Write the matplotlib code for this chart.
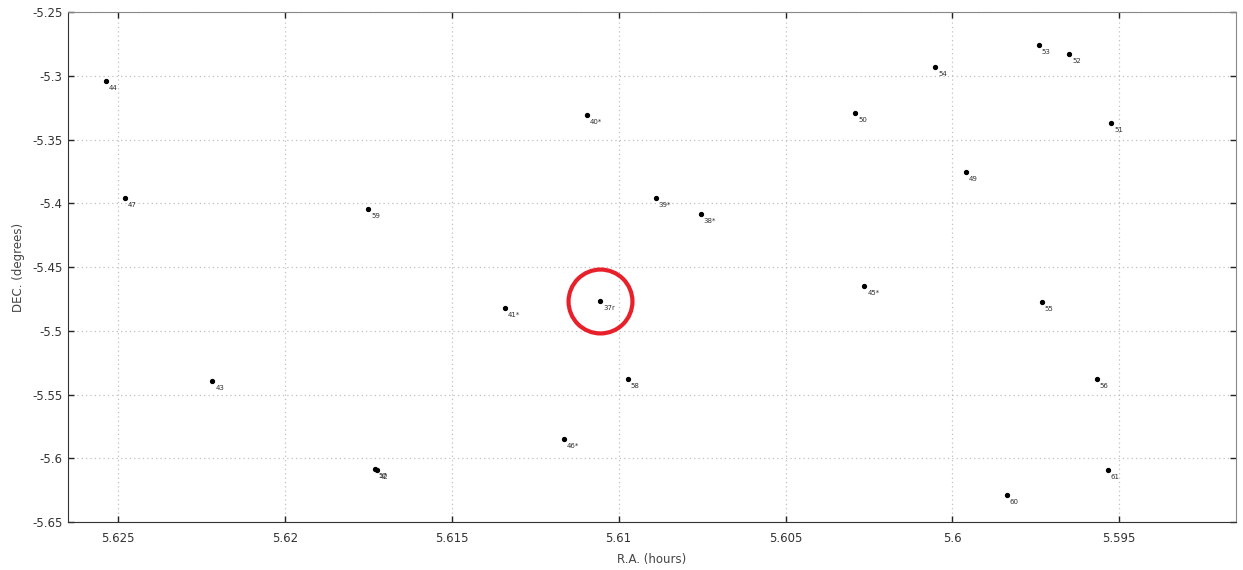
import matplotlib.pyplot as plt
from matplotlib.ticker import MultipleLocator, FuncFormatter

# star positions (R.A. in hours, DEC. in degrees)
labels = ["44", "47", "59", "40*", "39*", "38*", "54", "53", "52", "50", "51", "49",
          "43", "42", "57", "41*", "37r", "58", "46*", "45*", "55", "56", "61", "60"]
ra = [5.62537, 5.62479, 5.61750, 5.61095, 5.60889, 5.60754, 5.60051, 5.59741,
      5.59650, 5.60292, 5.59524, 5.59960, 5.62218, 5.61725, 5.61730, 5.61342,
      5.61056, 5.60973, 5.61164, 5.60264, 5.59732, 5.59568, 5.59535, 5.59837]
dec = [-5.3039, -5.3956, -5.4042, -5.3310, -5.3956, -5.4084, -5.2929, -5.2756,
       -5.2829, -5.3294, -5.3368, -5.3754, -5.5391, -5.6093, -5.6088, -5.4823,
       -5.4766, -5.5375, -5.5850, -5.4646, -5.4774, -5.5375, -5.6093, -5.6287]

highlight = "37r"

plt.rcParams["font.family"] = ["DejaVu Sans"]

fig = plt.figure(figsize=(12.43, 5.70), dpi=100)
ax = fig.add_axes([0.0547, 0.0842, 0.9397, 0.8947])

ax.plot(ra, dec, "o", color="black", ms=2.8, ls="none", zorder=3)
for lab, x, y in zip(labels, ra, dec):
    ax.annotate(lab, (x, y), xytext=(2.2, -5), textcoords="offset points",
                fontsize=5, color="#303030", ha="left", va="center", zorder=4)

# red ring around the highlighted star
i = labels.index(highlight)
ax.plot(ra[i], dec[i], "o", ms=46, mfc="none", mec="#e8202a", mew=3, zorder=5)

ax.set_xlim(5.6265, 5.5915)
ax.set_ylim(-5.65, -5.25)
ax.xaxis.set_major_locator(MultipleLocator(0.005))
ax.yaxis.set_major_locator(MultipleLocator(0.05))
fmt = FuncFormatter(lambda v, p: "%g" % round(v, 4))
ax.xaxis.set_major_formatter(fmt)
ax.yaxis.set_major_formatter(fmt)

ax.grid(True, color="#c0c0c0", ls=(0, (1, 2.5)), lw=0.9)
ax.tick_params(direction="in", length=4, width=1, colors="#222222",
               labelsize=8.5, labelcolor="#333333", top=True, right=True)
ax.tick_params(axis="x", pad=7)
ax.tick_params(axis="y", pad=4)
for s in ["left", "bottom"]:
    ax.spines[s].set_color("#333333")
for s in ["top", "right"]:
    ax.spines[s].set_color("#888888")

ax.set_xlabel("R.A. (hours)", fontsize=8.5, color="#444444", labelpad=6)
ax.set_ylabel("DEC. (degrees)", fontsize=8.5, color="#444444", labelpad=5)

fig.savefig("out.png", dpi=100)
